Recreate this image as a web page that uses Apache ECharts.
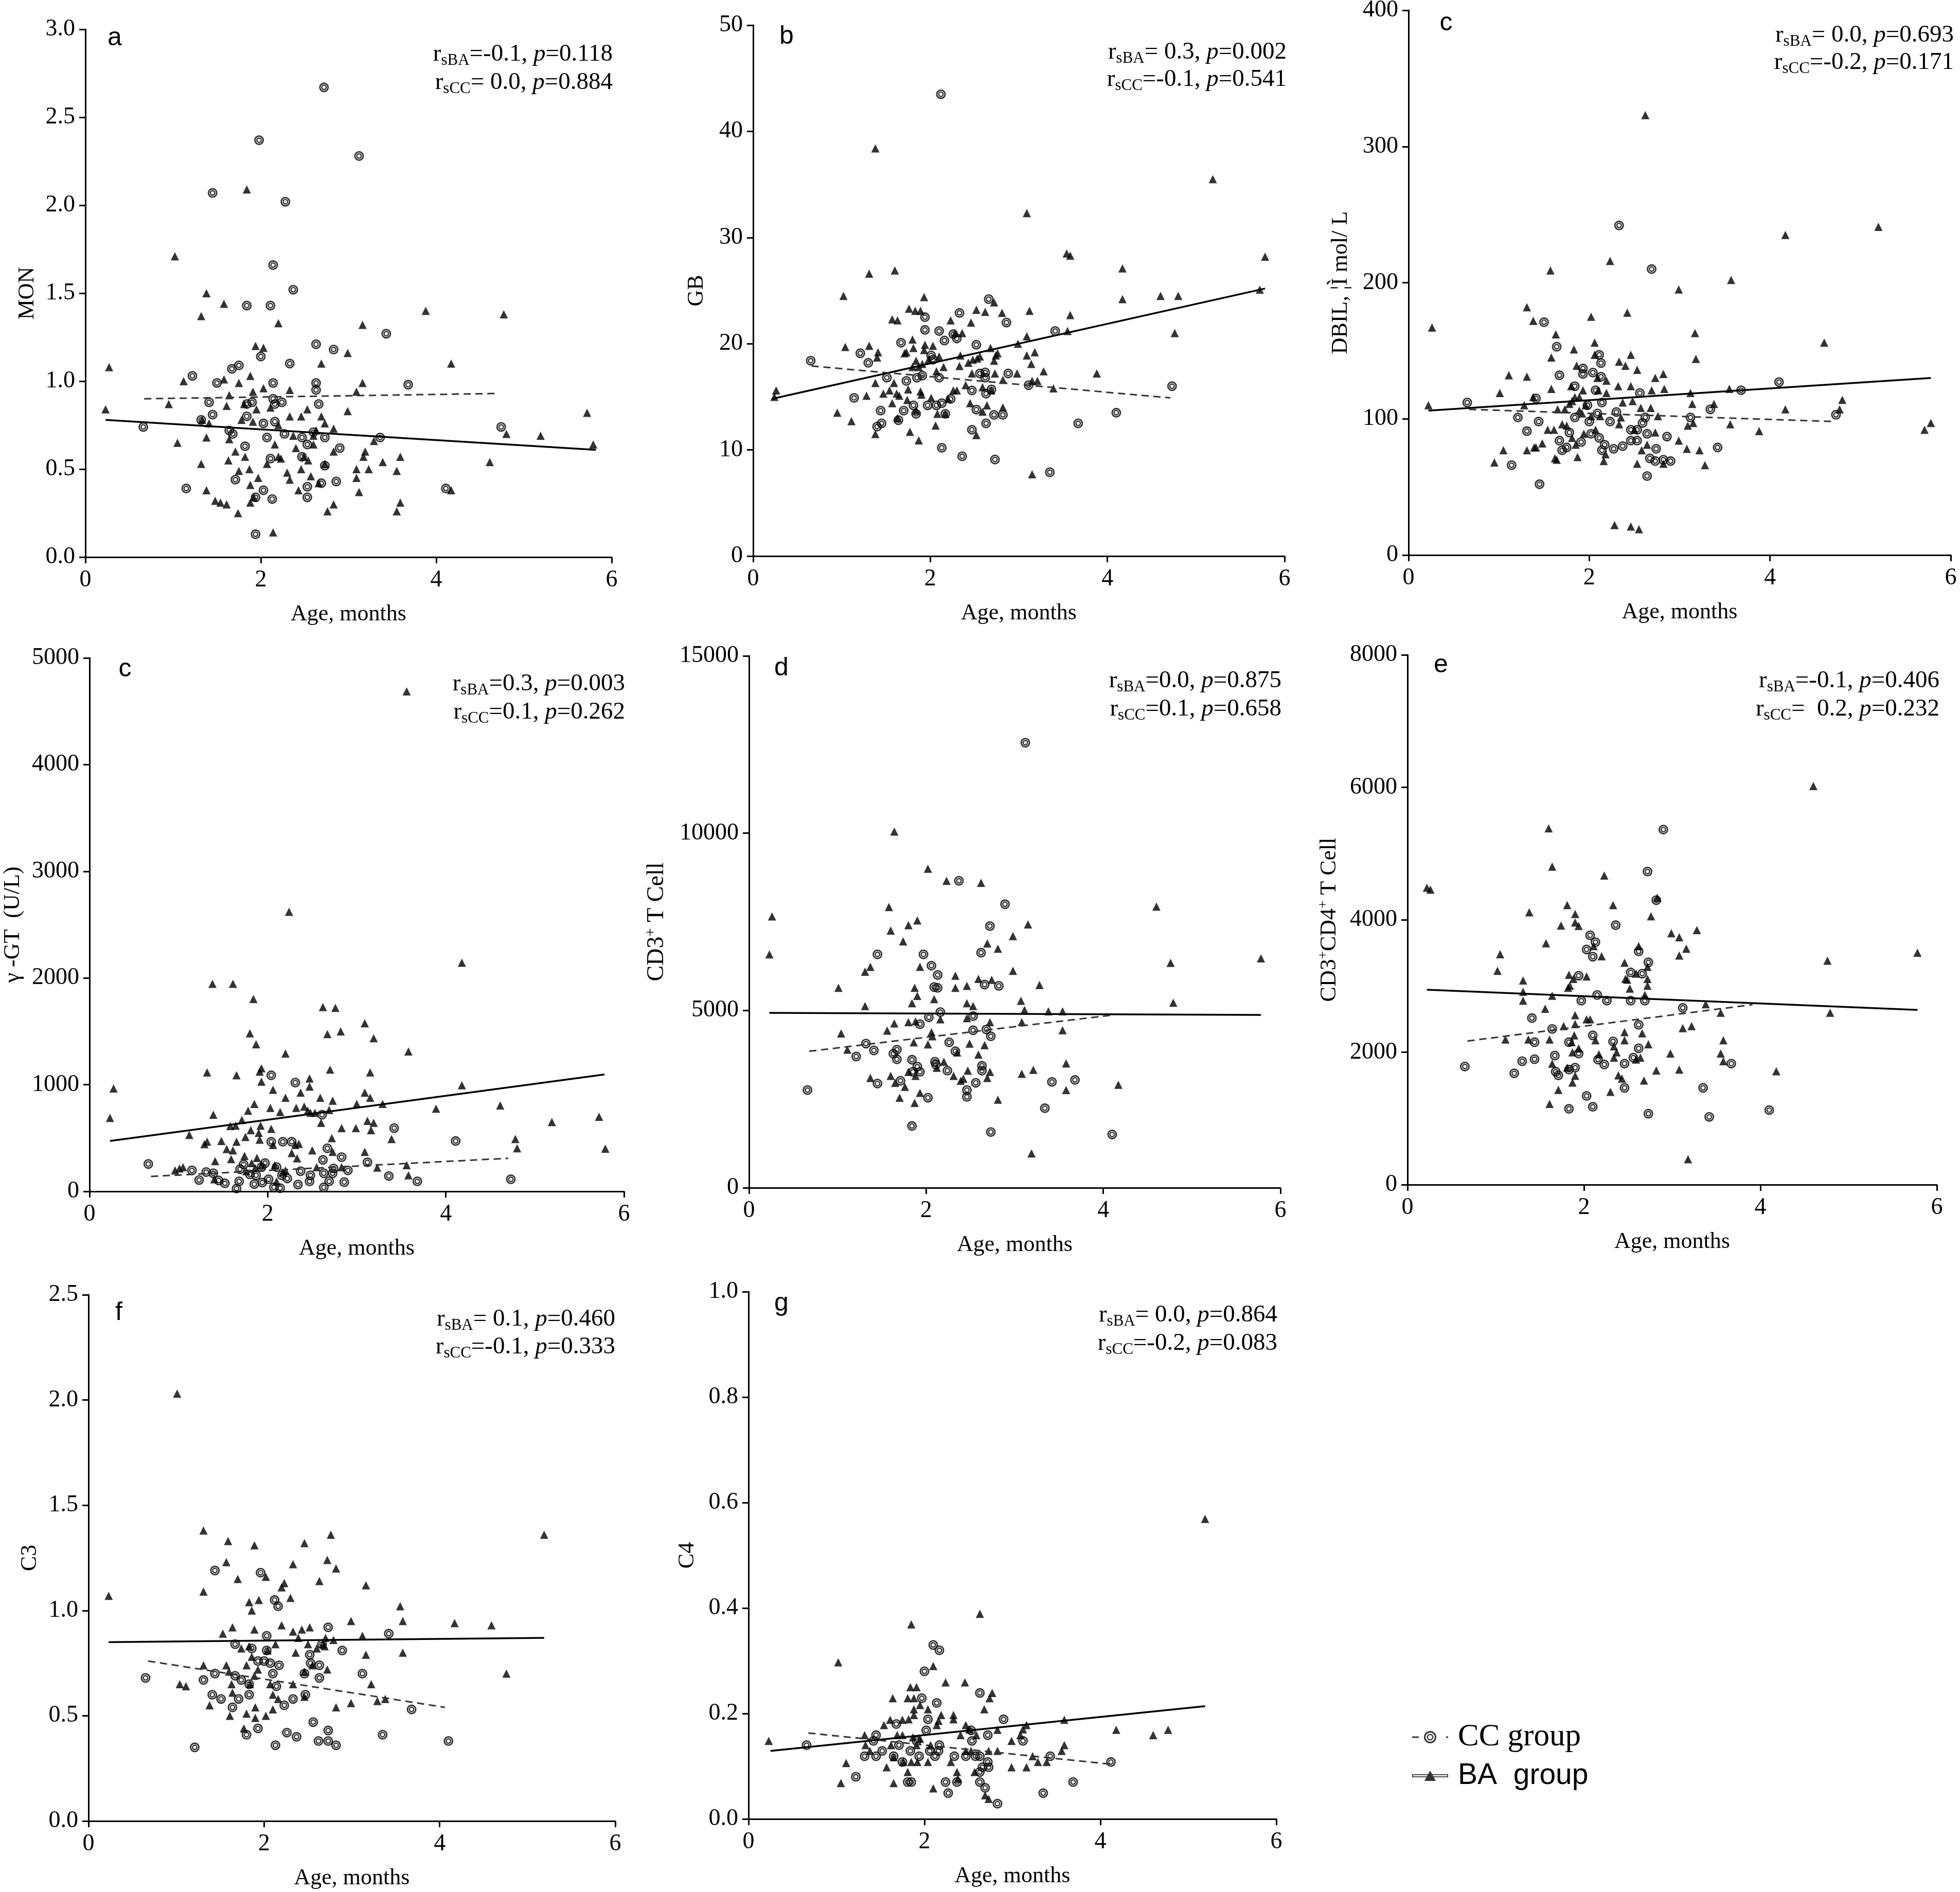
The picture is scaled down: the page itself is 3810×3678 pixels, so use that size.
<!DOCTYPE html>
<html><head><meta charset="utf-8">
<script src="https://cdn.jsdelivr.net/npm/echarts@6/dist/echarts.min.js"></script>
<style>html,body{margin:0;padding:0;background:#fff}#c{width:3810px;height:3678px}</style>
</head><body><div id="c"></div>
<script>
// ---------------- DATA ----------------
const xTickLabels = ['0', '2', '4', '6'];
const groupNames = ['CC group', 'BA group'];

// a: MON
const monBA = [[0.23,0.84],[0.27,1.08],[1.02,1.71],[0.95,0.87],[1.05,0.65],[1.12,1.00],[1.32,1.37],[1.38,1.50],[1.32,0.53],[1.38,0.38],[1.38,0.68],[1.41,0.76],[1.33,0.78],[1.48,0.32],[1.54,0.31],[1.58,1.44],[1.58,1.01],[1.61,0.86],[1.61,0.30],[1.64,0.67],[1.64,0.92],[1.63,0.55],[1.71,0.60],[1.74,0.25],[1.75,0.99],[1.75,0.49],[1.78,0.78],[1.81,0.87],[1.82,0.57],[1.84,2.09],[1.88,1.03],[1.87,0.50],[1.88,0.41],[1.88,0.31],[1.91,0.94],[1.91,0.77],[1.92,0.34],[1.94,1.20],[1.95,0.84],[1.97,0.45],[2.03,1.19],[2.03,0.96],[2.07,0.53],[2.11,0.85],[2.14,0.14],[2.16,0.64],[2.20,1.33],[2.20,0.75],[2.20,0.57],[2.23,0.56],[2.30,0.48],[2.33,0.95],[2.33,0.80],[2.33,0.44],[2.37,0.69],[2.40,0.62],[2.43,0.38],[2.46,0.80],[2.46,0.50],[2.49,0.57],[2.53,0.84],[2.54,0.55],[2.57,0.46],[2.60,0.64],[2.60,0.69],[2.63,0.72],[2.66,0.42],[2.69,1.10],[2.69,0.80],[2.73,0.76],[2.73,0.53],[2.76,0.26],[2.83,0.73],[2.83,0.30],[2.83,0.60],[2.99,1.16],[2.99,0.83],[3.09,0.94],[3.09,0.50],[3.09,0.45],[3.12,0.37],[3.16,1.32],[3.16,0.99],[3.17,0.57],[3.19,0.60],[3.23,0.50],[3.29,0.66],[3.39,0.54],[3.55,0.26],[3.55,0.49],[3.59,0.57],[3.59,0.31],[3.88,1.40],[4.17,1.10],[4.17,0.38],[4.61,0.54],[4.77,1.38],[4.80,0.70],[5.19,0.69],[5.72,0.82],[5.79,0.64]];
const monCC = [[0.66,0.74],[1.15,0.39],[1.22,1.03],[1.32,0.78],[1.41,0.88],[1.45,0.81],[1.45,2.07],[1.50,0.99],[1.64,0.72],[1.67,1.07],[1.68,0.70],[1.71,0.44],[1.75,1.09],[1.82,0.63],[1.84,0.80],[1.84,0.87],[1.84,1.43],[1.90,0.88],[1.94,0.13],[1.94,0.34],[1.98,2.37],[2.00,1.14],[2.03,0.38],[2.03,0.76],[2.07,0.68],[2.11,1.43],[2.11,0.56],[2.13,0.33],[2.14,1.66],[2.14,0.99],[2.14,0.90],[2.16,0.87],[2.16,0.77],[2.24,0.88],[2.27,0.70],[2.28,2.02],[2.33,1.10],[2.37,1.52],[2.47,0.68],[2.47,0.57],[2.53,0.64],[2.53,0.40],[2.53,0.34],[2.60,0.71],[2.63,1.21],[2.63,0.99],[2.63,0.95],[2.66,0.87],[2.69,0.42],[2.72,2.67],[2.73,0.68],[2.73,0.52],[2.83,1.18],[2.86,0.43],[2.90,0.62],[3.12,2.28],[3.36,0.68],[3.43,1.27],[3.68,0.98],[4.11,0.39],[4.74,0.74]];
const monFitBA = [[0.23,0.78],[5.82,0.61]];
const monFitCC = [[0.67,0.90],[4.71,0.93]];
const monTicks = ['0.0','0.5','1.0','1.5','2.0','2.5','3.0'];

// b: GB
const gbBA = [[0.24,15.0],[0.26,15.6],[0.95,13.5],[1.02,24.5],[1.04,19.7],[1.11,12.7],[1.28,15.1],[1.31,26.6],[1.31,19.8],[1.38,38.4],[1.38,11.5],[1.38,16.3],[1.40,18.7],[1.41,19.2],[1.47,15.3],[1.54,15.6],[1.57,22.3],[1.57,14.4],[1.59,16.3],[1.60,26.9],[1.62,15.3],[1.63,22.2],[1.63,13.0],[1.65,15.1],[1.71,19.1],[1.73,19.2],[1.74,14.7],[1.75,15.7],[1.76,23.3],[1.77,11.7],[1.80,20.4],[1.80,17.8],[1.81,19.6],[1.83,23.1],[1.84,18.4],[1.84,13.7],[1.87,10.9],[1.87,17.8],[1.89,15.5],[1.89,23.1],[1.90,15.2],[1.91,18.1],[1.93,24.4],[1.93,19.4],[1.94,19.9],[1.98,18.5],[2.01,14.9],[2.03,19.8],[2.06,12.3],[2.07,17.4],[2.08,13.4],[2.10,18.8],[2.15,17.8],[2.17,13.4],[2.20,14.8],[2.23,22.2],[2.26,15.6],[2.28,21.0],[2.30,15.6],[2.33,17.9],[2.34,18.9],[2.36,21.0],[2.40,16.1],[2.43,18.2],[2.45,14.4],[2.46,22.0],[2.47,17.2],[2.48,18.5],[2.52,23.2],[2.52,11.4],[2.53,18.6],[2.56,18.8],[2.59,15.9],[2.59,13.6],[2.62,23.0],[2.64,14.2],[2.68,19.6],[2.69,15.6],[2.72,23.9],[2.72,18.4],[2.73,17.2],[2.74,18.9],[2.76,19.1],[2.81,22.9],[2.82,16.6],[2.82,14.0],[2.98,17.2],[2.99,20.0],[3.09,32.3],[3.09,20.7],[3.09,18.9],[3.12,23.1],[3.14,18.1],[3.15,16.5],[3.15,7.7],[3.18,19.2],[3.21,16.5],[3.28,17.4],[3.39,15.8],[3.54,28.5],[3.58,28.3],[3.55,21.2],[3.58,22.7],[3.88,17.2],[4.17,27.1],[4.17,24.2],[4.60,24.5],[4.76,21.0],[4.80,24.5],[5.19,35.5],[5.72,25.1],[5.78,28.2]];
const gbCC = [[0.65,18.4],[1.14,14.9],[1.21,19.1],[1.30,18.2],[1.40,12.2],[1.44,13.7],[1.45,12.5],[1.51,16.8],[1.64,12.8],[1.67,20.1],[1.70,13.7],[1.73,16.5],[1.81,14.2],[1.84,13.4],[1.85,16.8],[1.91,17.0],[1.94,21.3],[1.94,22.5],[1.97,14.2],[2.01,18.9],[2.03,18.5],[2.07,14.2],[2.10,21.2],[2.10,16.8],[2.12,43.5],[2.13,14.4],[2.13,10.2],[2.16,20.3],[2.17,13.4],[2.23,14.8],[2.26,20.9],[2.30,20.5],[2.33,22.9],[2.36,9.4],[2.47,15.6],[2.47,11.9],[2.52,19.9],[2.52,13.8],[2.56,17.2],[2.62,17.3],[2.62,16.8],[2.63,15.3],[2.63,12.5],[2.66,24.2],[2.69,15.7],[2.72,13.3],[2.73,9.1],[2.82,13.3],[2.86,22.0],[2.88,17.2],[3.11,16.1],[3.35,7.9],[3.41,21.2],[3.67,12.5],[4.10,13.5],[4.73,16.0]];
const gbFitBA = [[0.21,14.8],[5.78,25.2]];
const gbFitCC = [[0.66,17.9],[4.71,14.9]];
const gbTicks = ['0','10','20','30','40','50'];

// c: DBIL
const dbilBA = [[0.22,110],[0.26,167],[0.95,68],[1.01,119],[1.05,77],[1.11,132],[1.28,110],[1.31,182],[1.31,131],[1.31,77],[1.38,172],[1.38,116],[1.39,79],[1.41,79],[1.48,82],[1.54,92],[1.57,209],[1.58,145],[1.58,122],[1.61,92],[1.62,71],[1.63,162],[1.65,107],[1.64,70],[1.70,96],[1.73,107],[1.75,95],[1.78,111],[1.80,124],[1.81,113],[1.81,86],[1.83,151],[1.84,116],[1.85,81],[1.86,139],[1.87,72],[1.89,116],[1.89,106],[1.92,104],[1.93,121],[1.94,89],[1.96,110],[2.02,175],[2.02,102],[2.06,147],[2.06,156],[2.07,92],[2.09,130],[2.10,121],[2.12,102],[2.16,69],[2.18,74],[2.19,128],[2.19,119],[2.23,216],[2.28,22],[2.32,124],[2.33,96],[2.33,142],[2.35,101],[2.37,112],[2.40,139],[2.42,178],[2.46,21],[2.46,124],[2.46,147],[2.48,113],[2.50,92],[2.53,67],[2.53,136],[2.55,19],[2.57,108],[2.58,77],[2.62,323],[2.64,81],[2.68,108],[2.69,121],[2.73,90],[2.73,130],[2.76,102],[2.82,133],[2.82,67],[2.83,122],[2.99,84],[2.99,195],[3.08,78],[3.09,95],[3.12,119],[3.14,111],[3.15,97],[3.17,163],[3.18,144],[3.22,77],[3.28,66],[3.38,111],[3.55,122],[3.56,96],[3.57,202],[3.88,91],[4.17,235],[4.17,107],[4.60,156],[4.77,107],[4.80,114],[5.20,241],[5.71,92],[5.78,97]];
const dbilCC = [[0.65,112],[1.14,66],[1.21,101],[1.31,91],[1.41,115],[1.44,98],[1.45,52],[1.50,171],[1.64,153],[1.67,132],[1.67,84],[1.70,77],[1.75,79],[1.78,90],[1.84,124],[1.84,101],[1.91,83],[1.93,137],[1.93,133],[1.98,110],[2.00,98],[2.02,89],[2.04,134],[2.07,121],[2.09,104],[2.11,147],[2.11,86],[2.13,141],[2.13,131],[2.14,77],[2.14,112],[2.17,81],[2.23,98],[2.27,78],[2.30,105],[2.33,242],[2.37,80],[2.46,84],[2.46,92],[2.53,84],[2.53,92],[2.56,119],[2.59,97],[2.62,101],[2.64,89],[2.64,58],[2.67,71],[2.69,210],[2.73,69],[2.74,78],[2.82,70],[2.86,87],[2.90,69],[3.12,101],[3.34,107],[3.42,79],[3.68,121],[4.10,127],[4.73,103]];
const dbilFitBA = [[0.22,106],[5.78,130]];
const dbilFitCC = [[0.67,107],[4.71,98]];
const dbilTicks = ['0','100','200','300','400'];

// c (row 2): gamma-GT
const ggtBA = [[0.23,688],[0.27,964],[0.96,197],[1.01,215],[1.05,227],[1.12,529],[1.29,442],[1.32,465],[1.32,1115],[1.38,1946],[1.39,718],[1.41,283],[1.40,113],[1.48,472],[1.54,397],[1.58,612],[1.59,302],[1.61,1946],[1.61,385],[1.64,616],[1.65,1088],[1.65,465],[1.71,669],[1.74,333],[1.75,510],[1.76,189],[1.78,756],[1.80,1481],[1.81,574],[1.82,265],[1.84,1803],[1.85,820],[1.86,219],[1.87,1379],[1.88,314],[1.90,548],[1.91,1122],[1.91,484],[1.92,616],[1.93,246],[1.93,1028],[1.93,1153],[2.03,782],[2.04,586],[2.06,952],[2.06,435],[2.08,246],[2.10,94],[2.14,744],[2.17,178],[2.20,877],[2.20,1292],[2.20,197],[2.24,2620],[2.27,359],[2.31,435],[2.32,782],[2.33,310],[2.35,446],[2.37,926],[2.41,794],[2.45,756],[2.47,1058],[2.47,983],[2.48,737],[2.50,385],[2.53,737],[2.55,227],[2.59,877],[2.60,642],[2.62,1727],[2.67,1474],[2.69,763],[2.70,1141],[2.72,499],[2.73,850],[2.73,370],[2.76,1720],[2.82,1500],[2.83,593],[2.83,227],[2.99,593],[3.00,820],[3.09,1576],[3.09,926],[3.09,370],[3.12,661],[3.15,1115],[3.15,877],[3.16,574],[3.19,1436],[3.19,642],[3.23,223],[3.29,820],[3.39,491],[3.56,4686],[3.58,1311],[3.56,246],[3.58,151],[3.89,775],[4.18,2143],[4.18,994],[4.61,805],[4.78,491],[4.80,404],[5.19,650],[5.72,699],[5.79,400]];
const ggtCC = [[0.66,257],[1.15,197],[1.23,106],[1.31,181],[1.39,170],[1.45,102],[1.52,76],[1.65,26],[1.68,94],[1.69,208],[1.73,253],[1.80,159],[1.85,68],[1.87,151],[1.93,227],[1.94,83],[1.97,265],[2.01,113],[2.04,465],[2.04,1088],[2.07,38],[2.10,227],[2.14,30],[2.16,151],[2.17,465],[2.22,121],[2.27,465],[2.31,1020],[2.34,64],[2.37,189],[2.47,94],[2.48,151],[2.61,718],[2.62,295],[2.63,170],[2.63,38],[2.67,404],[2.69,94],[2.73,170],[2.74,215],[2.83,321],[2.86,87],[2.90,197],[3.12,272],[3.36,144],[3.42,593],[3.68,94],[4.11,472],[4.73,113]];
const ggtFitBA = [[0.23,472],[5.78,1096]];
const ggtFitCC = [[0.69,140],[4.70,310]];
const ggtTicks = ['0','1000','2000','3000','4000','5000'];

// d: CD3+ T cell
const cd3BA = [[0.23,6583],[0.26,7654],[1.01,5638],[1.04,4351],[1.11,3896],[1.31,5126],[1.31,6094],[1.37,3098],[1.37,6231],[1.58,7916],[1.60,7255],[1.60,3155],[1.56,4431],[1.64,10046],[1.64,4636],[1.65,2961],[1.70,2540],[1.74,6948],[1.76,2847],[1.80,3269],[1.80,7404],[1.80,4670],[1.84,5205],[1.86,4100],[1.87,2392],[1.87,5638],[1.88,3155],[1.88,4693],[1.90,5410],[1.90,7540],[1.93,6231],[1.93,2677],[2.02,8998],[2.02,4044],[2.06,4385],[2.07,4271],[2.09,5319],[2.12,3383],[2.16,4750],[2.20,3554],[2.23,8657],[2.31,3155],[2.33,5980],[2.33,5638],[2.35,3816],[2.39,3018],[2.42,3075],[2.46,4784],[2.46,5695],[2.46,5205],[2.47,3303],[2.49,4066],[2.53,5126],[2.59,3759],[2.59,5889],[2.62,8600],[2.66,4021],[2.69,6891],[2.69,3098],[2.72,4670],[2.72,3269],[2.74,5866],[2.81,6743],[2.81,2483],[2.98,7096],[2.98,6117],[3.07,5274],[3.08,4670],[3.08,3212],[3.11,5012],[3.15,7426],[3.19,968],[3.21,3326],[3.28,5718],[3.38,4977],[3.54,4977],[3.54,4442],[3.58,3508],[3.58,2756],[4.17,2904],[4.60,7927],[4.76,6344],[4.79,5217],[5.78,6469]];
const cd3CC = [[0.66,2756],[1.21,3702],[1.32,4066],[1.41,3873],[1.45,6583],[1.45,2939],[1.63,3782],[1.67,3896],[1.67,3622],[1.71,3018],[1.84,1743],[1.84,3611],[1.85,3269],[1.90,3417],[1.93,4613],[1.93,3269],[1.97,6583],[2.02,2540],[2.03,4807],[2.06,6265],[2.09,5661],[2.10,3554],[2.11,3474],[2.13,6003],[2.13,5638],[2.16,4955],[2.24,3303],[2.26,4100],[2.33,3850],[2.37,8657],[2.46,2756],[2.46,2563],[2.53,4841],[2.53,4442],[2.56,2961],[2.62,6629],[2.63,3303],[2.63,3440],[2.66,5729],[2.68,4465],[2.72,7381],[2.73,4271],[2.73,1572],[2.82,5695],[2.89,7996],[3.12,12552],[3.34,2244],[3.42,2984],[3.68,3041],[4.10,1503]];
const cd3FitBA = [[0.23,4932],[5.78,4875]];
const cd3FitCC = [[0.68,3850],[4.08,4864]];
const cd3Ticks = ['0','5000','10000','15000'];

// e: CD3+CD4+ T cell
const cd4BA = [[0.22,4484],[0.26,4454],[1.02,3229],[1.05,3479],[1.11,2193],[1.31,3083],[1.31,2912],[1.31,2778],[1.37,2193],[1.38,4113],[1.56,2657],[1.57,3644],[1.60,5380],[1.61,2193],[1.61,1219],[1.64,4801],[1.64,2852],[1.64,1828],[1.71,1432],[1.74,3912],[1.77,2395],[1.81,4222],[1.81,1767],[1.82,2973],[1.83,3168],[1.84,3004],[1.86,2151],[1.87,1542],[1.87,1998],[1.88,3107],[1.89,2254],[1.90,4088],[1.90,3960],[1.90,2559],[1.90,2425],[1.94,3906],[1.94,2059],[1.90,1645],[2.03,3144],[2.03,2498],[2.07,2498],[2.11,3601],[2.13,2181],[2.17,1968],[2.20,3449],[2.23,4667],[2.30,1401],[2.33,4222],[2.34,2090],[2.34,1919],[2.37,1998],[2.39,1651],[2.43,1602],[2.46,3351],[2.46,2303],[2.46,2181],[2.47,3107],[2.49,3095],[2.52,2961],[2.59,1889],[2.59,3187],[2.62,3601],[2.64,1919],[2.66,2285],[2.68,1572],[2.69,2864],[2.72,3290],[2.72,3107],[2.72,3004],[2.73,2120],[2.76,4052],[2.82,1724],[2.83,4332],[2.98,1980],[2.99,3796],[3.08,3735],[3.08,3461],[3.08,1737],[3.12,2364],[3.16,3564],[3.18,384],[3.22,2395],[3.28,3845],[3.38,2724],[3.55,2596],[3.55,1980],[3.58,2181],[3.58,1864],[4.18,1712],[4.60,6020],[4.76,3382],[4.79,2596],[5.78,3503]];
const cd4CC = [[0.65,1785],[1.21,1682],[1.30,1864],[1.41,2516],[1.44,2151],[1.44,1895],[1.64,2352],[1.67,1950],[1.68,1706],[1.71,1651],[1.83,2151],[1.83,1145],[1.83,1737],[1.90,1767],[1.94,3156],[1.94,1980],[1.97,2778],[2.03,1340],[2.03,3552],[2.07,3765],[2.10,3443],[2.10,2254],[2.10,1176],[2.13,3662],[2.15,2864],[2.16,1889],[2.23,1816],[2.26,2778],[2.33,2163],[2.36,3918],[2.46,1828],[2.46,1462],[2.53,3205],[2.53,2778],[2.56,1919],[2.62,2413],[2.62,2059],[2.62,3522],[2.66,3187],[2.69,2778],[2.72,4728],[2.73,3357],[2.73,1072],[2.82,4296],[2.90,5362],[3.12,2669],[3.35,1462],[3.42,1024],[3.67,1828],[4.10,1127]];
const cd4FitBA = [[0.22,2943],[5.78,2638]];
const cd4FitCC = [[0.68,2169],[3.91,2718]];
const cd4Ticks = ['0','2000','4000','6000','8000'];

// f: C3
const c3BA = [[0.23,1.07],[1.01,2.03],[1.04,0.65],[1.11,0.64],[1.31,1.38],[1.31,1.09],[1.31,0.74],[1.38,0.55],[1.53,0.89],[1.57,1.23],[1.57,0.74],[1.59,1.33],[1.60,0.71],[1.61,0.50],[1.63,0.65],[1.64,0.61],[1.64,0.92],[1.70,1.15],[1.74,0.82],[1.77,0.44],[1.80,0.74],[1.80,0.51],[1.83,1.04],[1.83,0.83],[1.84,0.65],[1.86,1.00],[1.86,0.78],[1.89,1.31],[1.89,0.91],[1.89,0.69],[1.90,0.54],[1.90,0.49],[1.93,0.72],[1.94,1.05],[2.02,0.50],[2.02,1.16],[2.04,0.81],[2.07,0.65],[2.10,0.60],[2.10,0.53],[2.13,0.84],[2.16,0.58],[2.20,1.11],[2.20,0.93],[2.23,1.13],[2.30,1.06],[2.33,1.22],[2.33,0.90],[2.33,0.65],[2.36,0.80],[2.39,0.87],[2.43,0.91],[2.46,1.32],[2.46,0.71],[2.46,0.59],[2.50,0.84],[2.52,0.92],[2.55,0.74],[2.60,0.82],[2.63,1.14],[2.67,0.84],[2.69,0.83],[2.70,0.87],[2.72,1.24],[2.72,0.72],[2.76,1.36],[2.79,0.86],[2.82,1.20],[2.82,0.54],[2.99,0.95],[2.99,0.56],[3.12,0.88],[3.16,1.12],[3.16,0.79],[3.22,0.65],[3.29,0.57],[3.38,0.58],[3.55,1.02],[3.58,0.95],[3.58,0.80],[4.17,0.94],[4.59,0.93],[4.76,0.70],[5.19,1.36]];
const c3CC = [[0.65,0.68],[1.21,0.35],[1.31,0.67],[1.41,0.60],[1.44,0.70],[1.44,1.19],[1.51,0.58],[1.64,0.54],[1.67,0.84],[1.67,0.69],[1.71,0.58],[1.74,0.67],[1.80,0.41],[1.83,0.60],[1.83,0.65],[1.86,0.82],[1.93,0.76],[1.93,0.44],[1.96,1.18],[2.00,0.76],[2.03,0.88],[2.03,0.81],[2.07,0.75],[2.10,0.70],[2.12,1.05],[2.14,0.64],[2.16,1.02],[2.17,0.74],[2.13,0.36],[2.23,0.55],[2.26,0.42],[2.33,0.58],[2.37,0.40],[2.46,0.70],[2.47,0.60],[2.52,0.79],[2.53,0.75],[2.56,0.47],[2.62,0.38],[2.63,0.74],[2.63,0.68],[2.66,0.84],[2.73,0.92],[2.73,0.43],[2.73,0.38],[2.82,0.36],[2.89,0.81],[3.12,0.70],[3.35,0.41],[3.42,0.89],[3.68,0.53],[4.10,0.38]];
const c3FitBA = [[0.23,0.85],[5.19,0.87]];
const c3FitCC = [[0.68,0.76],[4.06,0.54]];
const c3Ticks = ['0.0','0.5','1.0','1.5','2.0','2.5'];

// g: C4
const c4BA = [[0.23,0.148],[1.02,0.297],[1.05,0.068],[1.11,0.106],[1.32,0.159],[1.33,0.140],[1.38,0.129],[1.54,0.178],[1.57,0.098],[1.61,0.188],[1.62,0.140],[1.64,0.229],[1.65,0.068],[1.65,0.117],[1.69,0.159],[1.75,0.188],[1.75,0.159],[1.76,0.108],[1.81,0.089],[1.81,0.229],[1.82,0.189],[1.84,0.250],[1.85,0.369],[1.85,0.108],[1.87,0.155],[1.88,0.229],[1.88,0.208],[1.88,0.197],[1.91,0.250],[1.91,0.140],[1.92,0.108],[1.95,0.216],[1.95,0.152],[2.04,0.208],[2.04,0.108],[2.07,0.140],[2.10,0.290],[2.10,0.058],[2.14,0.178],[2.16,0.186],[2.19,0.197],[2.24,0.259],[2.30,0.108],[2.33,0.197],[2.33,0.189],[2.37,0.089],[2.38,0.076],[2.41,0.159],[2.46,0.259],[2.47,0.178],[2.47,0.129],[2.51,0.170],[2.53,0.129],[2.57,0.089],[2.59,0.159],[2.63,0.389],[2.68,0.208],[2.69,0.045],[2.73,0.129],[2.73,0.038],[2.74,0.229],[2.77,0.239],[2.83,0.169],[2.83,0.129],[2.99,0.148],[2.99,0.098],[3.09,0.159],[3.12,0.170],[3.16,0.178],[3.16,0.098],[3.23,0.119],[3.29,0.108],[3.39,0.108],[3.56,0.129],[3.59,0.188],[3.59,0.140],[4.18,0.169],[4.60,0.159],[4.77,0.169],[5.19,0.569]];
const c4CC = [[0.66,0.140],[1.22,0.080],[1.32,0.119],[1.42,0.148],[1.45,0.159],[1.45,0.119],[1.52,0.129],[1.65,0.119],[1.68,0.180],[1.71,0.140],[1.75,0.108],[1.81,0.070],[1.85,0.070],[1.84,0.129],[1.91,0.148],[1.94,0.119],[1.97,0.229],[2.00,0.280],[2.02,0.168],[2.04,0.189],[2.06,0.129],[2.10,0.330],[2.12,0.119],[2.14,0.220],[2.16,0.129],[2.17,0.140],[2.17,0.320],[2.24,0.070],[2.27,0.049],[2.34,0.119],[2.37,0.070],[2.47,0.119],[2.53,0.168],[2.54,0.148],[2.58,0.119],[2.63,0.239],[2.63,0.119],[2.63,0.089],[2.63,0.070],[2.66,0.098],[2.69,0.059],[2.72,0.108],[2.72,0.159],[2.73,0.098],[2.83,0.029],[2.90,0.189],[3.12,0.148],[3.35,0.049],[3.43,0.119],[3.69,0.070],[4.12,0.108]];
const c4FitBA = [[0.25,0.129],[5.19,0.214]];
const c4FitCC = [[0.68,0.163],[4.11,0.104]];
const c4Ticks = ['0.0','0.2','0.4','0.6','0.8','1.0'];

// correlation annotations: [BA r, BA p, CC r, CC p]
const annotations = [
  ['=-0.1, ', '=0.118', '= 0.0, ', '=0.884'],
  ['= 0.3, ', '=0.002', '=-0.1, ', '=0.541'],
  ['= 0.0, ', '=0.693', '=-0.2, ', '=0.171'],
  ['=0.3, ', '=0.003', '=0.1, ', '=0.262'],
  ['=0.0, ', '=0.875', '=0.1, ', '=0.658'],
  ['=-0.1, ', '=0.406', '=  0.2, ', '=0.232'],
  ['= 0.1, ', '=0.460', '=-0.1, ', '=0.333'],
  ['= 0.0, ', '=0.864', '=-0.2, ', '=0.083']
];
const panelLetters = ['a', 'b', 'c', 'c', 'd', 'e', 'f', 'g'];
const yNames = ['MON', 'GB', 'DBIL, ¦Ì mol/ L', 'γ -GT  (U/L)', 'CD3{sup|+} T Cell', 'CD3{sup|+}CD4{sup|+} T Cell', 'C3', 'C4'];

// ---------------- LAYOUT / STYLE ----------------
const SERIF = '"Liberation Serif","Times New Roman",serif';
const SANS = '"Liberation Sans",Arial,sans-serif';

const panels = [
  {ba: monBA, cc: monCC, fba: monFitBA, fcc: monFitCC, ticks: monTicks, max: 3, step: 0.5,
   box: [166, 57, 1189, 1083], nameGap: 88, nameSize: 44, letter: [223, 74], ann: [1191, 106, 161]},
  {ba: gbBA, cc: gbCC, fba: gbFitBA, fcc: gbFitCC, ticks: gbTicks, max: 50, step: 10,
   box: [1464, 49, 2497, 1081], nameGap: 85, nameSize: 44, letter: [1529, 71], ann: [2501, 102, 155]},
  {ba: dbilBA, cc: dbilCC, fba: dbilFitBA, fcc: dbilFitCC, ticks: dbilTicks, max: 400, step: 100,
   box: [2738, 20, 3792, 1079], nameGap: 107, nameSize: 44, letter: [2811, 45], ann: [3798, 69, 122]},
  {ba: ggtBA, cc: ggtCC, fba: ggtFitBA, fcc: ggtFitCC, ticks: ggtTicks, max: 5000, step: 1000,
   box: [174, 1279, 1213, 2316], nameGap: 124, nameSize: 44, letter: [243, 1301], ann: [1215, 1330, 1385]},
  {ba: cd3BA, cc: cd3CC, fba: cd3FitBA, fcc: cd3FitCC, ticks: cd3Ticks, max: 15000, step: 5000,
   box: [1456, 1275, 2489, 2309], nameGap: 153, nameSize: 46, letter: [1519, 1299], ann: [2491, 1324, 1379]},
  {ba: cd4BA, cc: cd4CC, fba: cd4FitBA, fcc: cd4FitCC, ticks: cd4Ticks, max: 8000, step: 2000,
   box: [2736, 1273, 3765, 2303], nameGap: 127, nameSize: 44, letter: [2801, 1293], ann: [3770, 1324, 1379]},
  {ba: c3BA, cc: c3CC, fba: c3FitBA, fcc: c3FitCC, ticks: c3Ticks, max: 2.5, step: 0.5,
   box: [172, 2517, 1196, 3540], nameGap: 89, nameSize: 44, letter: [231, 2552], ann: [1196, 2565, 2619]},
  {ba: c4BA, cc: c4CC, fba: c4FitBA, fcc: c4FitCC, ticks: c4Ticks, max: 1.0, step: 0.2,
   box: [1455, 2511, 2481, 3536], nameGap: 94, nameSize: 44, letter: [1519, 2534], ann: [2483, 2557, 2612]}
];

const ringSymbol = 'path://M20,10A10,10,0,1,1,0,10A10,10,0,1,1,20,10Z M17,10A7,7,0,1,0,3,10A7,7,0,1,0,17,10Z M15.8,10A5.8,5.8,0,1,1,4.2,10A5.8,5.8,0,1,1,15.8,10Z M13.2,10A3.2,3.2,0,1,0,6.8,10A3.2,3.2,0,1,0,13.2,10Z';
const ccLegendIcon = 'path://M0,10.5L13,10.5L13,13.5L0,13.5Z M47,12A12,12,0,1,1,23,12A12,12,0,1,1,47,12Z M44,12A9,9,0,1,0,26,12A9,9,0,1,0,44,12Z M41.5,12A6.5,6.5,0,1,1,28.5,12A6.5,6.5,0,1,1,41.5,12Z M39,12A4,4,0,1,0,31,12A4,4,0,1,0,39,12Z M66,10.5L70,10.5L70,13.5L66,13.5Z';
const baLegendIcon = 'path://M0,9L70,9L70,15L0,15Z M1.8,10.8L1.8,13.2L68.2,13.2L68.2,10.8Z M24,22L35,2L46,22Z M35,0L35,0L35,0Z M35,24L35,24L35,24Z';

const grids = [], xAxes = [], yAxes = [], series = [], graphics = [];
const axisLineStyle = {color: '#000', width: 3};

panels.forEach((p, i) => {
  grids.push({left: p.box[0], top: p.box[1], width: p.box[2] - p.box[0], height: p.box[3] - p.box[1],
              containLabel: false, outerBoundsMode: 'none'});
  xAxes.push({
    gridIndex: i, type: 'value', min: 0, max: 6, interval: 2,
    name: 'Age, months', nameLocation: 'middle', nameGap: 89,
    nameTextStyle: {fontFamily: SERIF, fontSize: 44, color: '#000'},
    axisLine: {show: true, onZero: false, lineStyle: axisLineStyle},
    axisTick: {show: true, inside: false, length: 12, lineStyle: axisLineStyle},
    axisLabel: {show: true, fontFamily: SERIF, fontSize: 46, color: '#000', margin: 22,
                formatter: v => xTickLabels[Math.round(v / 2)]},
    splitLine: {show: false}
  });
  const ticks = p.ticks, step = p.step;
  yAxes.push({
    gridIndex: i, type: 'value', min: 0, max: p.max, interval: step,
    name: yNames[i], nameLocation: 'middle', nameGap: p.nameGap,
    nameTextStyle: {fontFamily: SERIF, fontSize: p.nameSize, color: '#000', lineHeight: p.nameSize + 6,
      rich: {sup: {fontFamily: SERIF, fontSize: Math.round(p.nameSize * 0.62), lineHeight: 18, verticalAlign: 'top', color: '#000'}}},
    axisLine: {show: true, onZero: false, lineStyle: axisLineStyle},
    axisTick: {show: true, inside: false, length: 12, lineStyle: axisLineStyle},
    axisLabel: {show: true, fontFamily: SERIF, fontSize: 46, color: '#000', margin: 20,
                formatter: v => ticks[Math.round(v / step)]},
    splitLine: {show: false}
  });
  series.push({type: 'scatter', name: groupNames[1], xAxisIndex: i, yAxisIndex: i, data: p.ba,
               symbol: 'triangle', symbolSize: 16, itemStyle: {color: '#000'}, silent: true, z: 2});
  series.push({type: 'scatter', name: groupNames[0], xAxisIndex: i, yAxisIndex: i, data: p.cc,
               symbol: ringSymbol, symbolSize: 19, itemStyle: {color: '#000'}, silent: true, z: 3});
  series.push({type: 'line', name: 'BA fit', xAxisIndex: i, yAxisIndex: i, data: p.fba,
               symbol: 'none', lineStyle: {color: '#000', width: 3.5}, silent: true, z: 4});
  series.push({type: 'line', name: 'CC fit', xAxisIndex: i, yAxisIndex: i, data: p.fcc,
               symbol: 'none', lineStyle: {color: '#333', width: 3, type: [14, 9]}, silent: true, z: 4});

  graphics.push({type: 'text', x: p.letter[0], y: p.letter[1], z: 10,
    style: {text: panelLetters[i], font: '50px ' + SANS, fill: '#000', align: 'center', verticalAlign: 'middle'}});
  const a = annotations[i];
  const rich = {
    r: {fontFamily: SERIF, fontSize: 47, lineHeight: 54, fill: '#000'},
    s: {fontFamily: SERIF, fontSize: 31, lineHeight: 22, verticalAlign: 'bottom', fill: '#000'},
    i: {fontFamily: SERIF, fontSize: 47, lineHeight: 54, fontStyle: 'italic', fill: '#000'}
  };
  graphics.push({type: 'text', x: p.ann[0], y: p.ann[1], z: 10,
    style: {text: '{r|r}{s|sBA}{r|' + a[0] + '}{i|p}{r|' + a[1] + '}', rich: rich, align: 'right', verticalAlign: 'middle'}});
  graphics.push({type: 'text', x: p.ann[0], y: p.ann[2], z: 10,
    style: {text: '{r|r}{s|sCC}{r|' + a[2] + '}{i|p}{r|' + a[3] + '}', rich: rich, align: 'right', verticalAlign: 'middle'}});
});

const chart = echarts.init(document.getElementById('c'), null, {renderer: 'canvas', width: 3810, height: 3678});
chart.setOption({
  animation: false,
  backgroundColor: '#fff',
  grid: grids, xAxis: xAxes, yAxis: yAxes, series: series,
  legend: {
    orient: 'vertical', left: 2740, top: 3339, itemWidth: 70, itemHeight: 24, itemGap: 9,
    selectedMode: false,
    formatter: n => (n === 'BA group' ? 'BA  group' : n),
    data: [
      {name: 'CC group', icon: ccLegendIcon, itemStyle: {color: '#000', borderWidth: 0},
       textStyle: {fontFamily: SERIF, fontSize: 61, color: '#000', lineHeight: 66, padding: [0, 0, 0, 14]}},
      {name: 'BA group', icon: baLegendIcon, itemStyle: {color: '#000', borderWidth: 0},
       textStyle: {fontFamily: SANS, fontSize: 57, color: '#000', lineHeight: 66, padding: [0, 0, 0, 14]}}
    ]
  },
  graphic: graphics
});
</script></body></html>
